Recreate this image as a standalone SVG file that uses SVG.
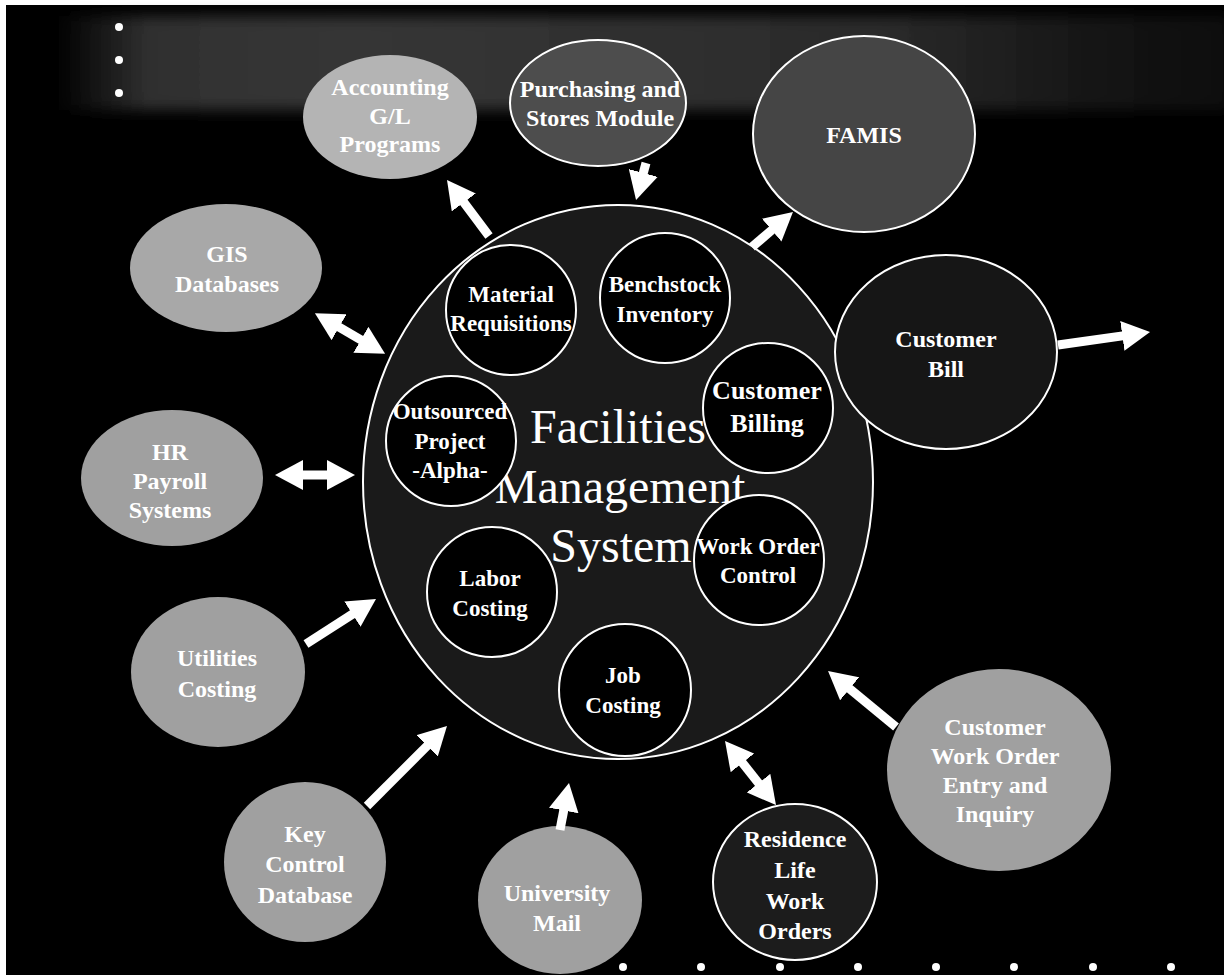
<svg xmlns="http://www.w3.org/2000/svg" width="1224" height="975" viewBox="0 0 1224 975">
<defs>
<style>
.lbl{font-family:"Liberation Serif","Times New Roman",serif;font-weight:bold;fill:#fff;text-anchor:middle}
.in{font-size:23px}
.out{font-size:24px}
.big{font-family:"Liberation Serif","Times New Roman",serif;font-size:48px;fill:#fff;text-anchor:middle}
.inner{fill:#000;stroke:#fff;stroke-width:2}
.dark{stroke:#fff;stroke-width:2}
.light{stroke:none}
.conn{stroke:#fff;stroke-width:9;fill:none}
.one{marker-end:url(#ah)}
.two{marker-start:url(#ah);marker-end:url(#ah)}
.dot{fill:#fff}
</style>
<marker id="ah" viewBox="0 0 28 30" markerWidth="28" markerHeight="30" refX="2" refY="15" orient="auto-start-reverse" markerUnits="userSpaceOnUse">
<path d="M0,0 L28,15 L0,30 z" fill="#fff"/>
</marker>
<linearGradient id="band" x1="0" y1="0" x2="1" y2="0">
<stop offset="0" stop-color="#3c3c3c" stop-opacity="0"/>
<stop offset="0.08" stop-color="#3c3c3c" stop-opacity="0.8"/>
<stop offset="0.25" stop-color="#3c3c3c" stop-opacity="0.9"/>
<stop offset="0.7" stop-color="#3c3c3c" stop-opacity="0.7"/>
<stop offset="0.88" stop-color="#3c3c3c" stop-opacity="0.35"/>
<stop offset="1" stop-color="#3c3c3c" stop-opacity="0.2"/>
</linearGradient>
<filter id="soft" x="-5%" y="-30%" width="110%" height="160%">
<feGaussianBlur stdDeviation="7"/>
</filter>
</defs>
<rect x="0" y="0" width="1224" height="975" fill="#fff"/>
<rect x="6" y="5" width="1218" height="970" fill="#000"/>
<rect x="55" y="16" width="1180" height="94" fill="url(#band)" filter="url(#soft)"/>
<g id="bullets">
<circle class="dot" cx="119" cy="27" r="4"/>
<circle class="dot" cx="119" cy="60" r="4"/>
<circle class="dot" cx="119" cy="93" r="4"/>
<circle class="dot" cx="623" cy="967" r="4"/>
<circle class="dot" cx="701" cy="967" r="4"/>
<circle class="dot" cx="780" cy="967" r="4"/>
<circle class="dot" cx="858" cy="967" r="4"/>
<circle class="dot" cx="936" cy="967" r="4"/>
<circle class="dot" cx="1014" cy="967" r="4"/>
<circle class="dot" cx="1093" cy="967" r="4"/>
<circle class="dot" cx="1171" cy="967" r="4"/>
</g>
<g id="fms">
<ellipse cx="618" cy="482" rx="255" ry="277" fill="#1a1a1a" stroke="#fff" stroke-width="2"/>
<text class="big" x="618" y="443">Facilities</text>
<text class="big" x="620" y="503">Management</text>
<text class="big" x="621" y="562">System</text>
</g>
<g id="accounting">
<ellipse class="light" cx="390" cy="117" rx="87" ry="62" fill="#b4b4b4"/>
<text class="lbl out"><tspan x="390" y="95">Accounting</tspan><tspan x="390" y="124">G/L</tspan><tspan x="390" y="152">Programs</tspan></text>
</g>
<g id="purchasing">
<ellipse class="dark" cx="598" cy="103" rx="88" ry="63" fill="#4d4d4d"/>
<text class="lbl out"><tspan x="600" y="97">Purchasing and</tspan><tspan x="600" y="126">Stores Module</tspan></text>
</g>
<g id="famis">
<ellipse class="dark" cx="864" cy="134" rx="111" ry="98" fill="#454545"/>
<text class="lbl out" x="864" y="143">FAMIS</text>
</g>
<g id="customer-bill">
<ellipse class="dark" cx="946" cy="352" rx="111" ry="97" fill="#161616"/>
<text class="lbl out"><tspan x="946" y="347">Customer</tspan><tspan x="946" y="377">Bill</tspan></text>
</g>
<g id="gis">
<ellipse class="light" cx="226" cy="268" rx="96" ry="64" fill="#a8a8a8"/>
<text class="lbl out"><tspan x="227" y="262">GIS</tspan><tspan x="227" y="292">Databases</tspan></text>
</g>
<g id="hr">
<ellipse class="light" cx="172" cy="478" rx="91" ry="68" fill="#a0a0a0"/>
<text class="lbl out"><tspan x="170" y="460">HR</tspan><tspan x="170" y="489">Payroll</tspan><tspan x="170" y="518">Systems</tspan></text>
</g>
<g id="utilities">
<ellipse class="light" cx="218" cy="672" rx="87" ry="75" fill="#a0a0a0"/>
<text class="lbl out"><tspan x="217" y="666">Utilities</tspan><tspan x="217" y="697">Costing</tspan></text>
</g>
<g id="key-control">
<ellipse class="light" cx="305" cy="862" rx="81" ry="80" fill="#a0a0a0"/>
<text class="lbl out"><tspan x="305" y="842">Key</tspan><tspan x="305" y="872">Control</tspan><tspan x="305" y="903">Database</tspan></text>
</g>
<g id="university-mail">
<ellipse class="light" cx="560" cy="900" rx="82" ry="74" fill="#a0a0a0"/>
<text class="lbl out"><tspan x="557" y="901">University</tspan><tspan x="557" y="931">Mail</tspan></text>
</g>
<g id="residence">
<ellipse class="dark" cx="795" cy="882" rx="82" ry="78" fill="#1c1c1c"/>
<text class="lbl out"><tspan x="795" y="847">Residence</tspan><tspan x="795" y="878">Life</tspan><tspan x="795" y="909">Work</tspan><tspan x="795" y="939">Orders</tspan></text>
</g>
<g id="customer-work-order">
<ellipse class="light" cx="999" cy="770" rx="112" ry="101" fill="#a0a0a0"/>
<text class="lbl out"><tspan x="995" y="735">Customer</tspan><tspan x="995" y="764">Work Order</tspan><tspan x="995" y="793">Entry and</tspan><tspan x="995" y="822">Inquiry</tspan></text>
</g>
<g id="material-requisitions">
<circle class="inner" cx="511" cy="310" r="65"/>
<text class="lbl in"><tspan x="511" y="302">Material</tspan><tspan x="511" y="331">Requisitions</tspan></text>
</g>
<g id="benchstock">
<circle class="inner" cx="665" cy="298" r="65"/>
<text class="lbl in"><tspan x="665" y="292">Benchstock</tspan><tspan x="665" y="322">Inventory</tspan></text>
</g>
<g id="customer-billing">
<circle class="inner" cx="768" cy="408" r="65"/>
<text class="lbl" style="font-size:26px"><tspan x="767" y="399">Customer</tspan><tspan x="767" y="432">Billing</tspan></text>
</g>
<g id="outsourced">
<circle class="inner" cx="451" cy="441" r="65"/>
<text class="lbl in"><tspan x="450" y="419">Outsourced</tspan><tspan x="450" y="449">Project</tspan><tspan x="450" y="478">-Alpha-</tspan></text>
</g>
<g id="labor-costing">
<circle class="inner" cx="492" cy="592" r="65"/>
<text class="lbl in"><tspan x="490" y="586">Labor</tspan><tspan x="490" y="616">Costing</tspan></text>
</g>
<g id="work-order-control">
<circle class="inner" cx="759" cy="560" r="65"/>
<text class="lbl in"><tspan x="758" y="554">Work Order</tspan><tspan x="758" y="583">Control</tspan></text>
</g>
<g id="job-costing">
<circle class="inner" cx="625" cy="690" r="66"/>
<text class="lbl in"><tspan x="623" y="683">Job</tspan><tspan x="623" y="713">Costing</tspan></text>
</g>
<g id="connectors">
<line class="conn one" x1="489" y1="236" x2="462.6" y2="200.8"/>
<line class="conn one" x1="646" y1="163" x2="642.8" y2="174.9"/>
<line class="conn one" x1="752" y1="247" x2="773.2" y2="228.9"/>
<line class="conn one" x1="1058" y1="345" x2="1124.3" y2="335.6"/>
<line class="conn two" x1="337.4" y1="326.2" x2="362.6" y2="340.8"/>
<line class="conn two" x1="301" y1="475" x2="329" y2="475"/>
<line class="conn one" x1="306" y1="644" x2="354.1" y2="613.1"/>
<line class="conn one" x1="367" y1="806" x2="428.6" y2="744.4"/>
<line class="conn one" x1="560" y1="830" x2="564.1" y2="808.5"/>
<line class="conn two" x1="741.2" y1="761.3" x2="759.8" y2="784.7"/>
<line class="conn one" x1="896" y1="727" x2="848.1" y2="687.5"/>
</g>
</svg>
